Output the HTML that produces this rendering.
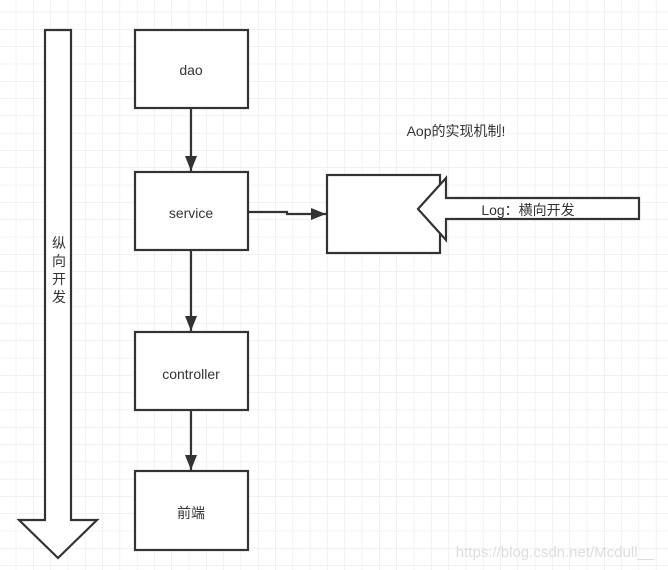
<!DOCTYPE html>
<html><head><meta charset="utf-8"><style>
html,body{margin:0;padding:0;background:#fff;overflow:hidden}
svg{display:block}
text{font-family:"Liberation Sans","Noto Sans CJK SC",sans-serif;fill:#333}
</style></head><body>
<svg width="668" height="570" viewBox="0 0 668 570" xmlns="http://www.w3.org/2000/svg">
<defs>
<pattern id="g" width="17.3" height="17.3" patternUnits="userSpaceOnUse" x="-1" y="-5">
<path d="M17.3 0V17.3M0 17.3H17.3" stroke="#e6e6e6" stroke-width="1" fill="none"/>
</pattern>
<marker id="a" markerWidth="16" markerHeight="14" refX="15" refY="6" orient="auto" markerUnits="userSpaceOnUse">
<path d="M0 0L15 6L0 12z" fill="#333"/>
</marker>
</defs>
<rect width="668" height="570" fill="#fff"/>
<rect width="668" height="570" fill="url(#g)"/>
<g stroke="#333" stroke-width="2.2" fill="#fff">
<path d="M45 30V520H19L58 558L97 520H71V30Z"/>
<rect x="135" y="30" width="113" height="78"/>
<rect x="135" y="172" width="113" height="78"/>
<rect x="135" y="332" width="113" height="78"/>
<rect x="135" y="471" width="113" height="79"/>
<rect x="327" y="175" width="113" height="78"/>
<path d="M418 209L446 178V198H639V219H446V240Z"/>
</g>
<g stroke="#333" stroke-width="2.2" fill="none">
<path d="M191 108V171" marker-end="url(#a)"/>
<path d="M191 250V331" marker-end="url(#a)"/>
<path d="M191 410V470" marker-end="url(#a)"/>
<path d="M248 212H287V214H326" marker-end="url(#a)"/>
</g>
<text x="191" y="75" font-size="14" text-anchor="middle">dao</text>
<text x="191" y="218" font-size="14" text-anchor="middle">service</text>
<text x="191" y="379" font-size="14" text-anchor="middle">controller</text>
<text x="191" y="518" font-size="14" text-anchor="middle">前端</text>
<text x="456" y="136" font-size="14" text-anchor="middle">Aop的实现机制!</text>
<text x="528" y="215" font-size="14" text-anchor="middle">Log：横向开发</text>
<g font-size="14" text-anchor="middle">
<text x="59" y="248">纵</text>
<text x="59" y="266">向</text>
<text x="59" y="284">开</text>
<text x="59" y="302">发</text>
</g>
<text x="555" y="557" font-size="15" text-anchor="middle" style="fill:#ddd">https://blog.csdn.net/Mcdull__</text>
</svg>
</body></html>
